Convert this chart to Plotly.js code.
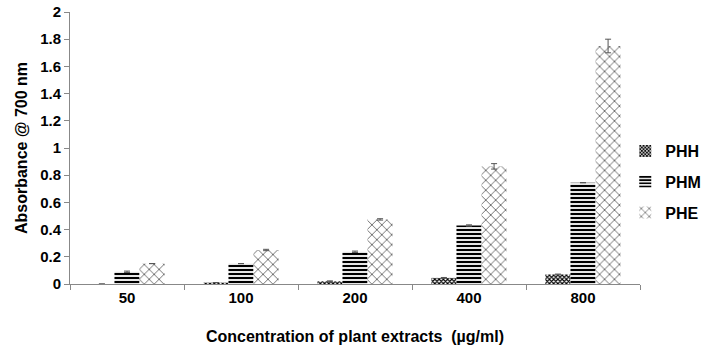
<!DOCTYPE html>
<html><head><meta charset="utf-8">
<script src="https://cdn.plot.ly/plotly-3.0.1.min.js"></script>
<style>body{margin:0;background:#fff}#chart{width:722px;height:351px}</style>
</head><body><div id="chart"></div>
<script>
const categories = ["50", "100", "200", "400", "800"];
const phh = [0.0, 0.01, 0.02, 0.045, 0.07];
const phm = [0.09, 0.15, 0.237, 0.43, 0.745];
const phe = [0.15, 0.25, 0.475, 0.865, 1.75];
const phhErr = [0, 0, 0.003, 0.003, 0.003];
const phmErr = [0.005, 0, 0.005, 0.005, 0];
const pheErr = [0, 0.005, 0.005, 0.02, 0.05];
const yTicks = [0, 0.2, 0.4, 0.6, 0.8, 1, 1.2, 1.4, 1.6, 1.8, 2];

const fam = "Liberation Sans, Arial, sans-serif";
function errs(a){return {type:"data", array:a, visible:true, color:"#555", thickness:1, width:3};}
const traces = [
  {type:"bar", name:"PHH", legendgroup:"a", x:categories, y:phh, error_y:errs(phhErr),
   marker:{color:"#fff", line:{width:0}, pattern:{shape:"x", fgcolor:"#000", bgcolor:"#fff", size:3, solidity:0.6}}},
  {type:"bar", name:"PHM", legendgroup:"b", x:categories, y:phm, error_y:errs(phmErr),
   marker:{color:"#fff", line:{width:0}, pattern:{shape:"-", fgcolor:"#000", bgcolor:"#fff", size:4, solidity:0.55}}},
  {type:"bar", name:"PHE", legendgroup:"c", x:categories, y:phe, error_y:errs(pheErr),
   marker:{color:"#fff", line:{width:0}, pattern:{shape:"x", fgcolor:"#000", bgcolor:"#fff", size:7, solidity:0.15}}}
];
const layout = {
  width:722, height:351,
  margin:{l:70, r:82, t:12, b:67, autoexpand:false},
  paper_bgcolor:"#fff", plot_bgcolor:"#fff",
  font: {family:fam, size:15, color:"#000"},
  barmode:"group", bargap:0.34, bargroupgap:0,
  showlegend:true,
  legend:{xref:"container", x:0.866, xanchor:"left", y:0.375, yanchor:"middle", font:{family:fam, size:16, weight:"bold", color:"#000"}, tracegroupgap:7, itemwidth:30},
  xaxis:{type:"category", automargin:false, showline:true, linecolor:"#888", linewidth:1, ticks:"outside", tickson:"boundaries", ticklen:5, tickcolor:"#888",
    tickfont:{family:fam, size:15, weight:"bold"}, showgrid:false,
    title:{text:"Concentration of plant extracts  (µg/ml)", font:{family:fam, size:16, weight:"bold"}, standoff:25}},
  yaxis:{range:[0,2], automargin:false, tickvals:yTicks, ticktext:yTicks.map(String), showline:true, linecolor:"#888", linewidth:1, ticks:"outside", ticklen:5, tickcolor:"#888",
    showgrid:false, zeroline:false, tickfont:{family:fam, size:15, weight:"bold"},
    title:{text:"Absorbance @ 700 nm", font:{family:fam, size:16, weight:"bold"}, standoff:8}}
};
Plotly.newPlot("chart", traces, layout, {displayModeBar:false, staticPlot:true});
</script></body></html>
